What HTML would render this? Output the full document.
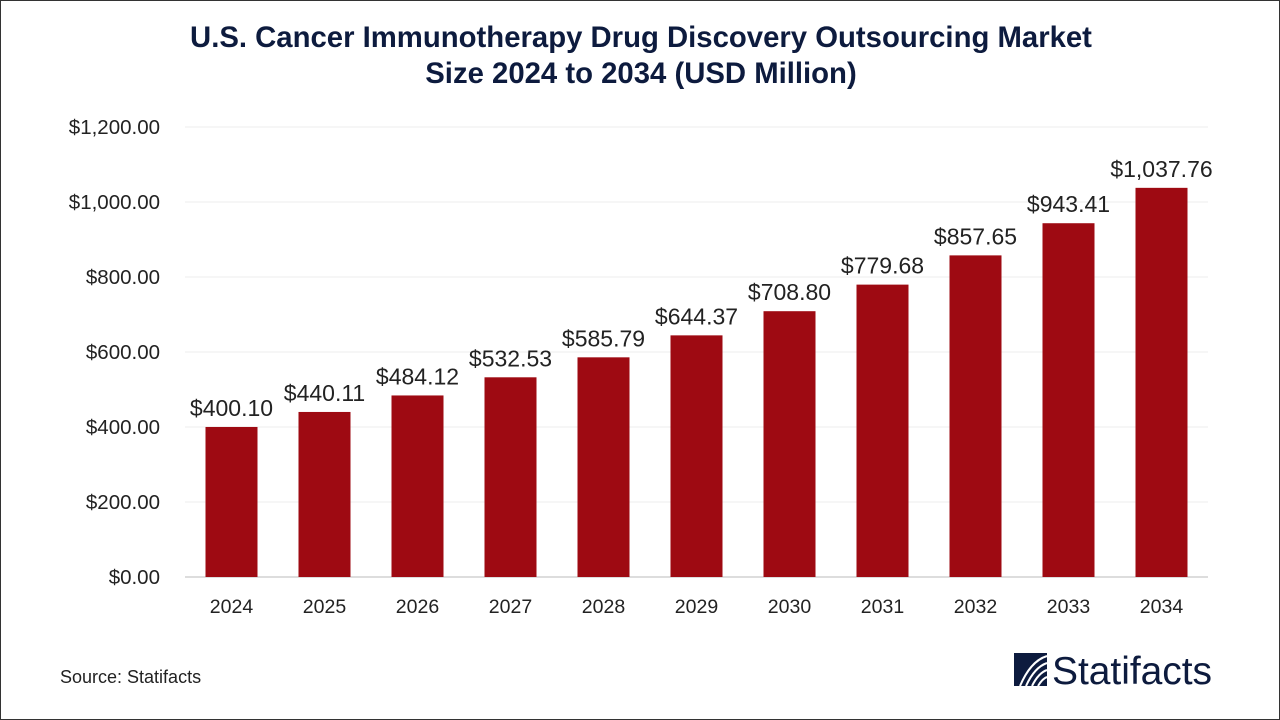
<!DOCTYPE html>
<html><head><meta charset="utf-8"><style>
body{margin:0;width:1280px;height:720px;background:#fff;font-family:"Liberation Sans",sans-serif;overflow:hidden}
.frame{position:absolute;left:0;top:0;width:1278px;height:718px;border:1px solid #333}
</style></head><body>
<div class="frame"></div>
<svg width="1280" height="720" style="position:absolute;left:0;top:0" id="chart">
<text x="641" y="47" text-anchor="middle" font-size="29.3" font-weight="bold" fill="#0d1b3e">U.S. Cancer Immunotherapy Drug Discovery Outsourcing Market</text>
<text x="641" y="83" text-anchor="middle" font-size="29.3" font-weight="bold" fill="#0d1b3e">Size 2024 to 2034 (USD Million)</text>
<text x="60" y="683" font-size="18" fill="#222">Source: Statifacts</text>
<g>
<rect x="1014" y="653" width="33" height="33" fill="#0d1b3e"/>
<path d="M1020 686 C1026 672,1034 660,1047 656 M1026 686 C1031 675,1038 666,1047 663 M1032 686 C1036 678,1041 672,1047 670 M1038 686 C1041 681,1044 678,1047 677" stroke="#fff" stroke-width="2" fill="none"/>
<text x="1052" y="684" font-size="39" fill="#0d1b3e" textLength="160">Statifacts</text>
</g>
<g id="plot"></g>
</svg>
<script>
const years=["2024","2025","2026","2027","2028","2029","2030","2031","2032","2033","2034"];
const values=[400.10,440.11,484.12,532.53,585.79,644.37,708.80,779.68,857.65,943.41,1037.76];
const ticks=[0,200,400,600,800,1000,1200];
const NS="http://www.w3.org/2000/svg";
const g=document.getElementById('plot');
const x0=185,x1=1208,y0=577,yTop=127,max=1200;
const yS=v=>y0-(v/max)*(y0-yTop);
const step=(x1-x0)/years.length;
const xS=i=>x0+step*(i+0.5);
function mk(t,a){const e=document.createElementNS(NS,t);for(const k in a)e.setAttribute(k,a[k]);g.appendChild(e);return e;}
const fmt=v=>'$'+v.toLocaleString('en-US',{minimumFractionDigits:2,maximumFractionDigits:2});
ticks.forEach(t=>{
 const l=mk('line',{x1:x0,x2:x1,y1:yS(t),y2:yS(t),stroke:t===0?'#bbb':'#eee','stroke-width':1});
 
 
 const tx=mk('text',{x:160,y:yS(t)+7,'text-anchor':'end','font-size':20.5,fill:'#222'});
 tx.textContent=fmt(t);
 
 
});
years.forEach((yr,i)=>{
 const w=52,v=values[i];
 const r=mk('rect',{x:xS(i)-w/2,y:yS(v),width:w,height:y0-yS(v),fill:'#9e0a12'});
 
 
 const lb=mk('text',{x:xS(i),y:yS(v)-11,'text-anchor':'middle','font-size':23,fill:'#222'});
 lb.textContent=fmt(v);
 
 
 const xl=mk('text',{x:xS(i),y:613,'text-anchor':'middle','font-size':19.5,fill:'#222'});
 xl.textContent=yr;
 
 
});
</script>
</body></html>
